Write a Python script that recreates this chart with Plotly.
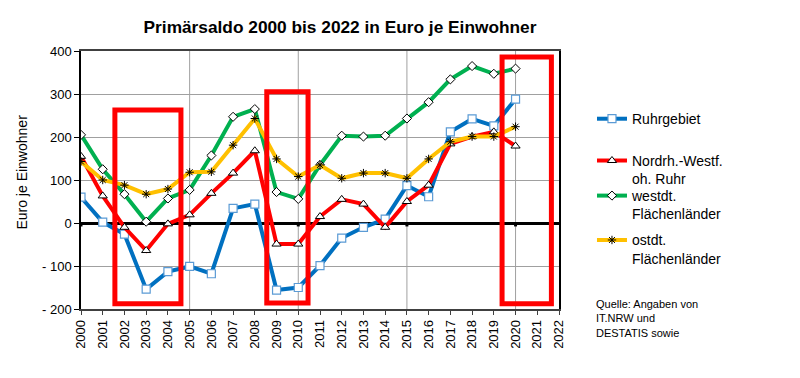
import plotly.graph_objects as go

years = list(range(2000, 2021))
tick_years = list(range(2000, 2023))

ruhrgebiet = [60, 2, -26, -154, -113, -101, -118, 34, 44, -156, -150, -99, -35, -10, 9, 87, 61, 212, 242, 226, 288]
nrw_oh_ruhr = [155, 63, -10, -64, -2, 19, 69, 116, 168, -49, -49, 15, 55, 44, -10, 50, 88, 184, 201, 212, 179]
westdt = [205, 125, 67, 3, 57, 77, 157, 247, 265, 72, 56, 135, 203, 201, 203, 243, 281, 334, 365, 347, 359]
ostdt = [143, 100, 88, 67, 79, 118, 119, 181, 243, 149, 108, 135, 104, 116, 116, 104, 149, 189, 201, 201, 224]

y_ticks = [400, 300, 200, 100, 0, -100, -200]
y_tick_labels = ["400", "300", "200", "100", "0", "- 100", "- 200"]

FONT = "Liberation Sans, Arial, sans-serif"

fig = go.Figure()

fig.add_trace(go.Scatter(
    x=years, y=ruhrgebiet, name="Ruhrgebiet", mode="lines+markers",
    line=dict(color="#0070C0", width=4),
    marker=dict(symbol="square", size=8, color="white", line=dict(color="#5B9BD5", width=1.2)),
    legend="legend"))
fig.add_trace(go.Scatter(
    x=years, y=nrw_oh_ruhr, name="Nordrh.-Westf.<br>oh. Ruhr", mode="lines+markers",
    line=dict(color="#FF0000", width=4),
    marker=dict(symbol="triangle-up", size=8, color="white", line=dict(color="black", width=1)),
    legend="legend2"))
fig.add_trace(go.Scatter(
    x=years, y=westdt, name="westdt.<br>Flächenländer", mode="lines+markers",
    line=dict(color="#00B050", width=4),
    marker=dict(symbol="diamond", size=7, color="white", line=dict(color="black", width=1)),
    legend="legend3"))
fig.add_trace(go.Scatter(
    x=years, y=ostdt, name="ostdt.<br>Flächenländer", mode="lines+markers",
    line=dict(color="#FFC000", width=4),
    marker=dict(symbol="asterisk-open", size=7, color="black", line=dict(color="black", width=1)),
    legend="legend4"))

# red highlight rectangles
for x0, x1, y0, y1 in [(2001.56, 2004.6, -188, 263), (2008.55, 2010.45, -186, 305), (2019.38, 2021.65, -188, 386)]:
    fig.add_shape(type="rect", xref="x", yref="y", x0=x0, x1=x1, y0=y0, y1=y1,
                  line=dict(color="#FF0000", width=5), fillcolor="rgba(0,0,0,0)", layer="above")

# small tick marks on the zero line
for yr in range(2000, 2023, 5):
    fig.add_shape(type="line", xref="x", yref="y", x0=yr, x1=yr, y0=0, y1=-8,
                  line=dict(color="black", width=3))

# vertical gridlines every 5 years
for yr in [2005, 2010, 2015, 2020]:
    fig.add_shape(type="line", xref="x", yref="paper", x0=yr, x1=yr, y0=0, y1=1,
                  line=dict(color="#A0A0A0", width=1), layer="below")

leg_common = dict(font=dict(family=FONT, size=14, color="black"), bgcolor="rgba(0,0,0,0)",
                  xanchor="left", yanchor="top", valign="top", itemwidth=30)

fig.update_layout(
    width=792, height=370,
    margin=dict(l=73, r=241, t=43, b=69),
    showlegend=True,
    paper_bgcolor="white", plot_bgcolor="white",
    font=dict(family=FONT, size=13, color="black"),
    title=dict(text="<b>Primärsaldo 2000 bis 2022 in Euro je Einwohner</b>",
               x=0.4192, xanchor="center", y=0.949, yanchor="middle",
               font=dict(family=FONT, size=17.3, color="black")),
    legend=dict(x=1.069, y=0.798, **leg_common),
    legend2=dict(x=1.069, y=0.636, **leg_common),
    legend3=dict(x=1.069, y=0.5, **leg_common),
    legend4=dict(x=1.069, y=0.328, **leg_common),
    xaxis=dict(range=[2000, 2022], tickvals=tick_years, ticktext=[str(y) for y in tick_years],
               tickangle=-90, tickfont=dict(family=FONT, size=13),
               showgrid=False, showline=True, linecolor="#404040", linewidth=1.5, mirror=True,
               ticks="outside", ticklen=4, tickcolor="#404040", zeroline=False),
    yaxis=dict(range=[-200, 400], tickvals=y_ticks, ticktext=y_tick_labels,
               tickfont=dict(family=FONT, size=13),
               showgrid=True, gridcolor="#A0A0A0", gridwidth=1,
               showline=True, linecolor="black", linewidth=1.5, mirror=True,
               ticks="outside", ticklen=5, tickcolor="black",
               zeroline=True, zerolinecolor="black", zerolinewidth=3),
)

fig.add_annotation(text="Euro je Einwohner", xref="paper", yref="paper",
                   x=-0.1234, y=0.5287, xanchor="center", yanchor="middle",
                   textangle=-90, showarrow=False,
                   font=dict(family=FONT, size=14, color="black"))

fig.add_annotation(text="Quelle: Angaben von<br>IT.NRW und<br>DESTATIS sowie",
                   xref="paper", yref="paper", x=1.073, y=0.05, xanchor="left", yanchor="top",
                   align="left", showarrow=False,
                   font=dict(family=FONT, size=11, color="black"))

fig.write_html("out.html")
